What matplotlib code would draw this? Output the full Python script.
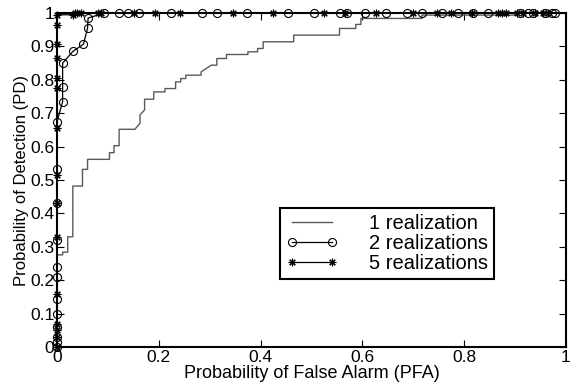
import matplotlib
matplotlib.use('Agg')
import matplotlib.pyplot as plt
from matplotlib.ticker import FormatStrFormatter
import numpy as np

# ROC curves: probability of false alarm (x) vs probability of detection (y)

# 1 realization, staircase corners
pfa1 = [0, 0, 0.011, 0.011, 0.021, 0.021, 0.031, 0.031, 0.05, 0.05,
        0.06, 0.06, 0.103, 0.103, 0.112, 0.112, 0.122, 0.122, 0.153, 0.163,
        0.163, 0.172, 0.172, 0.19, 0.19, 0.212, 0.212, 0.233, 0.233, 0.243,
        0.243, 0.253, 0.253, 0.283, 0.283, 0.303, 0.314, 0.314, 0.333, 0.333,
        0.375, 0.375, 0.394, 0.394, 0.405, 0.405, 0.465, 0.465, 0.555, 0.555,
        0.587, 0.587, 0.597, 0.597, 0.717, 0.717, 0.9, 0.9, 0.98]
pd1 = [0, 0.276, 0.276, 0.284, 0.284, 0.33, 0.33, 0.482, 0.482, 0.532,
       0.532, 0.562, 0.562, 0.582, 0.582, 0.603, 0.603, 0.652, 0.652, 0.67,
       0.695, 0.71, 0.742, 0.742, 0.764, 0.764, 0.774, 0.774, 0.794, 0.794,
       0.804, 0.804, 0.814, 0.814, 0.824, 0.844, 0.844, 0.864, 0.864, 0.876,
       0.876, 0.884, 0.884, 0.894, 0.894, 0.914, 0.914, 0.934, 0.934, 0.954,
       0.954, 0.966, 0.966, 0.984, 0.984, 0.994, 0.994, 1.0, 1.0]

# 2 realizations
pfa2 = [0, 0, 0, 0, 0, 0, 0, 0, 0, 0, 0, 0,
        0.011, 0.011, 0.011, 0.031, 0.052, 0.06, 0.061, 0.092,
        0.122, 0.14, 0.162, 0.223, 0.284, 0.314, 0.373, 0.454, 0.504, 0.555,
        0.57, 0.605, 0.646, 0.687, 0.718, 0.756, 0.788, 0.817, 0.847, 0.91,
        0.926, 0.935, 0.959, 0.972, 0.978]
pd2 = [0, 0.015, 0.03, 0.06, 0.10, 0.143, 0.21, 0.24, 0.32, 0.432, 0.532, 0.675,
       0.735, 0.78, 0.85, 0.885, 0.907, 0.955, 0.985, 1.0,
       1, 1, 1, 1, 1, 1, 1, 1, 1, 1,
       1, 1, 1, 1, 1, 1, 1, 1, 1, 1,
       1, 1, 1, 1, 1]

# 5 realizations
pfa5 = [0, 0, 0, 0, 0, 0, 0, 0, 0, 0, 0, 0, 0, 0, 0,
        0.031, 0.036, 0.04, 0.048, 0.081, 0.086, 0.152, 0.193, 0.242, 0.345,
        0.425, 0.525, 0.566, 0.627, 0.699, 0.747, 0.775, 0.815, 0.867, 0.875,
        0.883, 0.903, 0.916, 0.94, 0.955, 0.965]
pd5 = [0, 0.03, 0.05, 0.07, 0.16, 0.328, 0.432, 0.515, 0.655, 0.775,
       0.807, 0.865, 0.907, 0.965, 0.995,
       0.995, 1, 1, 1, 1, 1, 1, 1, 1, 1,
       1, 1, 1, 1, 1, 1, 1, 1, 1, 1,
       1, 1, 1, 1, 1, 1]

plt.rcParams['font.family'] = ['Liberation Sans', 'DejaVu Sans']

fig = plt.figure(figsize=(5.72, 3.85), dpi=100)
ax = fig.add_axes([0.0997, 0.0987, 0.8898, 0.8673])

asterisk = (8, 2, 0)

ax.plot(pfa1, pd1, color='0.35', lw=1.0, label='1 realization')
ax.plot(pfa2, pd2, color='black', lw=0.9, marker='o', ms=5.8,
        mfc='none', mec='black', mew=0.8, clip_on=False,
        label='2 realizations')
ax.plot(pfa5, pd5, color='black', lw=0.9, marker=asterisk, ms=5.5,
        mec='black', mew=0.8, clip_on=False, label='5 realizations')

ax.set_xlim(0, 1)
ax.set_ylim(0, 1)
ax.set_xticks(np.arange(0, 1.01, 0.2))
ax.set_yticks(np.arange(0, 1.01, 0.1))
ax.xaxis.set_major_formatter(FormatStrFormatter('%g'))
ax.yaxis.set_major_formatter(FormatStrFormatter('%g'))
ax.tick_params(direction='in', length=5, width=0.8, top=True, right=True,
               labelsize=12.5, pad=2)
for s in ax.spines.values():
    s.set_linewidth(1.5)

ax.set_xlabel('Probability of False Alarm (PFA)', fontsize=13, labelpad=0)
ax.set_ylabel('Probability of Detection (PD)', fontsize=12, labelpad=1)

leg = ax.legend(loc='upper left', bbox_to_anchor=(0.438, 0.416),
                fontsize=14.5, numpoints=2, handlelength=2.6,
                handletextpad=1.5, fancybox=False, frameon=True,
                borderaxespad=0, borderpad=0.3, labelspacing=0.05,
                framealpha=1)
leg.get_frame().set_edgecolor('black')
leg.get_frame().set_linewidth(1.5)

fig.savefig('out.png', dpi=100)
plt.close(fig)
